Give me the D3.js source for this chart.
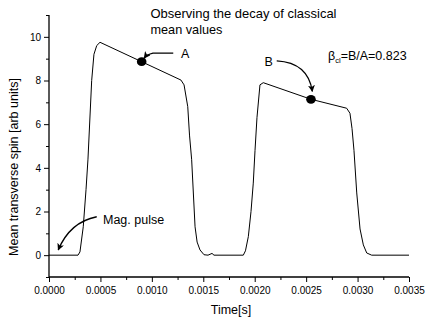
<!DOCTYPE html>
<html><head><meta charset="utf-8">
<script src="https://cdn.jsdelivr.net/npm/d3@7"></script>
<style>
html,body{margin:0;padding:0;background:#fff;}
text{font-family:"Liberation Sans",Arial,sans-serif;fill:#000;}
</style></head>
<body><svg id="c" width="427" height="324"></svg>
<script>
// ---- data ----
const timeS = [0,0.000282,0.000301,0.000333,0.00036,0.000379,0.000415,0.000437,0.000464,0.000496,
  0.000901,0.001283,0.001313,0.001349,0.001366,0.001387,0.00142,0.00144,0.001468,0.001507,0.001546,0.001585,0.001604,
  0.001889,0.00191,0.001938,0.001964,0.001986,0.002003,0.002022,0.002051,0.002083,
  0.002547,0.002894,0.002926,0.002946,0.002965,0.002992,0.003024,0.003056,0.003089,0.003137,0.0035];
const spin = [0,0,0.15,1.3,3.0,4.4,8.0,9.2,9.6,9.75,
  8.86,8.02,7.8,6.8,5.5,4.37,1.3,0.6,0.24,0.02,0,0.08,0,
  0,0.2,0.85,2.0,3.3,4.8,6.3,7.8,7.9,
  7.14,6.73,6.5,5.8,4.8,2.85,1.2,0.47,0.1,0,0];
const markedPoints = [{name:"A",t:0.000901,v:8.86},{name:"B",t:0.002547,v:7.14}];
const xTicks = [0,0.0005,0.001,0.0015,0.002,0.0025,0.003,0.0035];
const xTickLabels = ["0.0000","0.0005","0.0010","0.0015","0.0020","0.0025","0.0030","0.0035"];
const yTicks = [0,2,4,6,8,10];
const yMinorTicks = [-1,1,3,5,7,9,11];
const xMinorTicks = [0.00025,0.00075,0.00125,0.00175,0.00225,0.00275,0.00325];
const titleLines = ["Observing the decay of classical","mean values"];
const betaLabel = {sym:"β", sub:"cl", rest:"=B/A=0.823"};

// ---- layout ----
const svg = d3.select("#c");
const x = d3.scaleLinear().domain([0,0.0035]).range([49,409]);
const y = d3.scaleLinear().domain([-1,11]).range([277,15]);

// axes
const xAxis = d3.axisBottom(x).tickValues(xTicks).tickFormat((d,i)=>xTickLabels[i]).tickSize(5).tickPadding(3);
const gx = svg.append("g").attr("transform","translate(0,277)").call(xAxis);
svg.append("g").attr("transform","translate(0,277)")
  .call(d3.axisBottom(x).tickValues(xMinorTicks).tickFormat("").tickSize(3).tickSizeOuter(0))
  .select(".domain").remove();
const yAxis = d3.axisLeft(y).tickValues(yTicks).tickSize(5).tickPadding(3).tickSizeOuter(0);
const gy = svg.append("g").attr("transform","translate(49,0)").call(yAxis);
svg.append("g").attr("transform","translate(49,0)")
  .call(d3.axisLeft(y).tickValues(yMinorTicks).tickFormat("").tickSize(3).tickSizeOuter(0))
  .select(".domain").remove();
svg.selectAll(".domain").attr("stroke","#000").attr("stroke-width",1.3);
svg.selectAll(".tick line").attr("stroke","#000").attr("stroke-width",1);
gx.select(".domain").attr("d","M49,0H409");
gy.select(".domain").attr("d","M0,15V277");
svg.selectAll(".tick text").attr("font-size",10).attr("font-family","Liberation Sans, Arial, sans-serif").attr("fill","#000");
gx.selectAll(".tick text").attr("dy","0.85em");

// axis titles
svg.append("text").attr("x",231).attr("y",314).attr("text-anchor","middle").attr("font-size",12.5).text("Time[s]");
svg.append("text").attr("transform","translate(18,167) rotate(-90)").attr("text-anchor","middle").attr("font-size",12.5).text("Mean transverse spin [arb units]");

// curve
const pts = timeS.map((t,i)=>[t,spin[i]]);
svg.append("path").datum(pts)
  .attr("fill","none").attr("stroke","#000").attr("stroke-width",1)
  .attr("d",d3.line().x(d=>x(d[0])).y(d=>y(d[1])));

// marked points
svg.selectAll("ellipse.pt").data(markedPoints).enter().append("ellipse")
  .attr("cx",d=>x(d.t)).attr("cy",d=>y(d.v)).attr("rx",4.8).attr("ry",4.4).attr("fill","#000");

// arrow marker
const defs = svg.append("defs");
defs.append("marker").attr("id","ah").attr("viewBox","0 0 10 10").attr("refX",9).attr("refY",5)
  .attr("markerWidth",7).attr("markerHeight",7).attr("orient","auto-start-reverse").attr("markerUnits","userSpaceOnUse")
  .append("path").attr("d","M0,0L10,5L0,10L2.5,5Z").attr("fill","#000");

// annotation arrows (data coordinates)
const arrowA = [[0.001208,9.25],[0.001011,9.25],[0.000950,9.18],[0.000925,9.02]];
const arrowB = [[0.002214,8.9],[0.002520,8.82],[0.002560,7.50]];
const arrowMag = [[0.000464,1.76],[0.000204,1.52],[0.000090,0.24]];
svg.append("path").attr("fill","none").attr("stroke","#000").attr("stroke-width",1.3).attr("marker-end","url(#ah)")
  .attr("d",`M${x(arrowA[0][0])},${y(arrowA[0][1])}L${x(arrowA[1][0])},${y(arrowA[1][1])}Q${x(arrowA[2][0])},${y(arrowA[2][1])} ${x(arrowA[3][0])},${y(arrowA[3][1])}`);
svg.append("path").attr("fill","none").attr("stroke","#000").attr("stroke-width",1.3).attr("marker-end","url(#ah)")
  .attr("d",`M${x(arrowB[0][0])},${y(arrowB[0][1])}Q${x(arrowB[1][0])},${y(arrowB[1][1])} ${x(arrowB[2][0])},${y(arrowB[2][1])}`);
svg.append("path").attr("fill","none").attr("stroke","#000").attr("stroke-width",1.3).attr("marker-end","url(#ah)")
  .attr("d",`M${x(arrowMag[0][0])},${y(arrowMag[0][1])}Q${x(arrowMag[1][0])},${y(arrowMag[1][1])} ${x(arrowMag[2][0])},${y(arrowMag[2][1])}`);

// annotation texts
svg.append("text").attr("x",181).attr("y",58).attr("font-size",12.5).text("A");
svg.append("text").attr("x",264.5).attr("y",66).attr("font-size",12.5).text("B");
svg.append("text").attr("x",103).attr("y",224).attr("font-size",12.5).text("Mag. pulse");
svg.selectAll("text.title").data(titleLines).enter().append("text").attr("class","title")
  .attr("x",150.5).attr("y",(d,i)=>17.5+i*16.5).attr("font-size",12.7).attr("textLength",(d,i)=>i===0?186:null)
  .attr("lengthAdjust","spacingAndGlyphs").text(d=>d);
const bt = svg.append("text").attr("x",328).attr("y",59.5).attr("font-size",12.5);
bt.append("tspan").text(betaLabel.sym);
bt.append("tspan").attr("font-size",7.5).attr("dy",3).text(betaLabel.sub);
bt.append("tspan").attr("dy",-3).text(betaLabel.rest);
</script></body></html>
